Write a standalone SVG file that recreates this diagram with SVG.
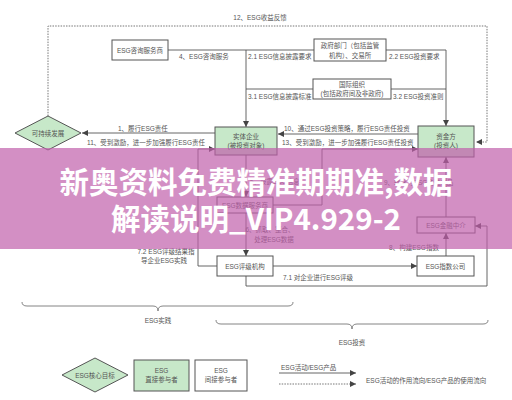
<svg xmlns="http://www.w3.org/2000/svg" width="512" height="400" viewBox="0 0 512 400">
<defs>
<marker id="ah" viewBox="0 0 10 10" refX="10" refY="5" markerWidth="6" markerHeight="6" markerUnits="userSpaceOnUse" orient="auto">
<path d="M0,0 L10,5 L0,10 z" fill="#444"/>
</marker>
</defs>
<style>
text{font-family:"Liberation Sans","Noto Sans CJK SC",sans-serif;font-size:6.5px;fill:#555}
.c{text-anchor:middle}
.box{fill:#fff;stroke:#555;stroke-width:1}
.g{fill:#c7e8c9;stroke:#555;stroke-width:1}
.ln{fill:none;stroke:#555;stroke-width:0.9}
.dot{fill:none;stroke:#666;stroke-width:0.9;stroke-dasharray:1.5 1.2}
.br{fill:none;stroke:#777;stroke-width:0.9}
.wm{font-family:"Noto Sans CJK SC",sans-serif;font-size:29.5px;font-weight:bold;fill:#fff;text-anchor:middle}
</style>
<rect width="512" height="400" fill="#fff"/>
<g id="connectors">
<path class="dot" d="M48,116 V26 H487 V142 H476" marker-end="url(#ah)"/>
<path class="ln" d="M168,50 H314"/>
<path class="ln" d="M246,50 V127" marker-end="url(#ah)"/>
<path class="ln" d="M386,50 H446 V126" marker-end="url(#ah)"/>
<path class="ln" d="M246,89 H313"/>
<path class="ln" d="M391,89 H446"/>
<path class="ln" d="M215,133 H82" marker-end="url(#ah)"/>
<path class="ln" d="M217,266 H198 V149 H215" marker-end="url(#ah)"/>
<path class="ln" d="M418,134 H278" marker-end="url(#ah)"/>
<path class="ln" d="M273,205 H322 V149 H418" marker-end="url(#ah)"/>
<path class="ln" d="M246,155 V197" marker-end="url(#ah)"/>
<path class="ln" d="M246,213 V256" marker-end="url(#ah)"/>
<path class="ln" d="M273,266 H417" marker-end="url(#ah)"/>
<path class="ln" d="M446,256 V233" marker-end="url(#ah)"/>
<path class="ln" d="M446,217 V157" marker-end="url(#ah)"/>
<path class="ln" d="M246,276 V286 H487 V226 H475" marker-end="url(#ah)"/>
<text x="260" y="20" class="c">12、ESG收益反馈</text>
<text x="179" y="59">4、ESG咨询服务</text>
<text x="248" y="59">2.1 ESG信息披露要求</text>
<text x="389" y="59">2.2 ESG投资要求</text>
<text x="248" y="99">3.1 ESG信息披露标准</text>
<text x="393" y="99">3.2 ESG投资准则</text>
<text x="118" y="131">1、履行ESG责任</text>
<text x="87" y="145">11、受到激励，进一步加强履行ESG责任</text>
<text x="284" y="131">10、通过ESG投资策略，履行ESG责任投资</text>
<text x="282" y="145">13、受到激励，进一步加强履行ESG责任投资</text>
<text x="250" y="184">5、披露ESG信息</text>
<text x="384" y="185">9、转化为ESG金融产品</text>
<text x="270" y="232" class="c">6、抓取、整合、</text>
<text x="274" y="242" class="c">处理ESG数据</text>
<text x="414" y="250" class="c">8、构建ESG指数</text>
<text x="166" y="254" class="c">7.2 ESG评级结果指</text>
<text x="164" y="263" class="c">导企业ESG实践</text>
<text x="283" y="280">7.1 对企业进行ESG评级</text>
</g>
<g id="n-consult"><rect class="box" x="112" y="40" width="56" height="20"/><text x="140" y="52.5" class="c">ESG咨询服务商</text></g>
<g id="n-gov"><rect class="box" x="314" y="39" width="72" height="22"/><text x="350" y="48" class="c">政府部门（包括监管</text><text x="350" y="57.5" class="c">机构）、交易所</text></g>
<g id="n-intl"><rect class="box" x="313" y="79" width="78" height="20"/><text x="352" y="87" class="c">国际组织</text><text x="352" y="96" class="c">(包括政府间及非政府)</text></g>
<g id="n-sd"><path class="g" d="M15,133 L48,116 L81,133 L48,150 z"/><text x="48" y="135.5" class="c">可持续发展</text></g>
<g id="n-firm"><rect class="g" x="215" y="127" width="62" height="28"/><text x="246" y="139" class="c">实体企业</text><text x="246" y="148" class="c">(被投资对象)</text></g>
<g id="n-fund"><rect class="g" x="418" y="126" width="56" height="31"/><text x="446" y="139" class="c">资金方</text><text x="446" y="148" class="c">(投资人)</text></g>
<g id="n-data"><rect class="box" x="217" y="197" width="56" height="16"/><text x="245" y="207.5" class="c">ESG数据服务商</text></g>
<g id="n-fin"><rect class="box" x="417" y="217" width="58" height="16"/><text x="446" y="227.5" class="c">ESG金融中介</text></g>
<g id="n-rating"><rect class="box" x="217" y="256" width="56" height="20"/><text x="245" y="268.5" class="c">ESG评级机构</text></g>
<g id="n-index"><rect class="box" x="417" y="256" width="57" height="20"/><text x="445.5" y="268.5" class="c">ESG指数公司</text></g>
<g id="braces">
<path class="br" d="M22,302 Q22,306 27,306 L153,306 Q158,306 158,311 Q158,306 163,306 L288,306 Q293,306 293,302"/>
<text x="158" y="323" class="c">ESG实践</text>
<path class="br" d="M216,320 Q216,324 221,324 L347,324 Q352,324 352,329 Q352,324 357,324 L483,324 Q488,324 488,320"/>
<text x="352" y="345" class="c">ESG投资</text>
</g>
<g id="legend">
<path class="g" d="M62,375 L95,358 L128,375 L95,392 z"/><text x="95" y="377.5" class="c">ESG核心目标</text>
<rect class="g" x="134" y="360" width="55" height="31"/><text x="161.5" y="373" class="c">ESG</text><text x="161.5" y="382" class="c">直接参与者</text>
<rect class="box" x="195" y="360" width="52" height="31"/><text x="221" y="373" class="c">ESG</text><text x="221" y="382" class="c">间接参与者</text>
<path class="ln" d="M279,373 H356" marker-end="url(#ah)"/>
<text x="281" y="370">ESG活动/ESG产品</text>
<path class="dot" d="M279,384 H356" marker-end="url(#ah)"/>
<text x="366" y="383">ESG活动的作用流向/ESG产品的使用流向</text>
</g>
<g id="watermark">
<rect x="0" y="148" width="512" height="101" fill="#c05fab" opacity="0.7"/>
<text x="256" y="193" class="wm">新奥资料免费精准期期准,数据</text>
<text x="256" y="230" class="wm">解读说明_VIP4.929-2</text>
</g>
</svg>
